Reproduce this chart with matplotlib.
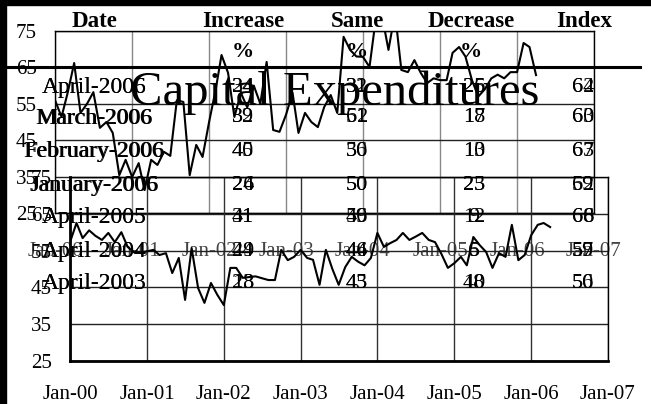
import matplotlib
matplotlib.use("Agg")
import matplotlib.pyplot as plt
import matplotlib.dates as mdates
from matplotlib.lines import Line2D
from matplotlib.patches import Rectangle
import pandas as pd

W, H = 651, 404

# monthly index readings, Jan-2000 .. Apr-2006
months = pd.date_range("2000-01-01", periods=76, freq="MS")
spend_upper = [56.0, 51.4, 58.0, 66.2, 52.5, 55.0, 58.2, 48.4, 50.0, 47.0,
               35.4, 39.6, 34.9, 38.7, 31.3, 39.6, 38.2, 41.8, 40.7, 56.0,
               55.5, 35.4, 43.7, 40.4, 50.0, 58.8, 68.4, 63.5, 51.4, 58.0,
               54.0, 60.0, 55.0, 66.5, 47.8, 47.3, 52.0, 58.0, 47.0, 52.5,
               50.0, 48.6, 54.1, 57.4, 52.5, 73.4, 69.8, 68.0, 67.9, 65.1,
               78.0, 79.0, 69.8, 80.0, 64.3, 63.7, 67.0, 63.5, 60.7, 62.0,
               61.5, 61.5, 69.0, 70.6, 68.0, 61.5, 57.0, 59.0, 62.0, 63.0,
               62.0, 63.7, 63.7, 71.7, 70.6, 62.9]
spend_lower = [57.3, 62.5, 58.4, 60.5, 59.0, 57.9, 59.8, 57.3, 60.0, 56.0,
               54.5, 54.5, 54.8, 55.2, 53.8, 54.3, 48.9, 53.0, 41.6, 55.7,
               44.8, 40.8, 46.2, 43.0, 40.2, 50.3, 50.3, 47.6, 47.8, 48.0,
               47.5, 47.0, 47.0, 55.2, 52.4, 53.3, 55.2, 53.0, 52.5, 45.7,
               55.2, 50.0, 45.7, 50.5, 53.3, 52.0, 51.0, 53.0, 59.8, 56.0,
               57.0, 57.9, 59.8, 57.9, 58.8, 59.8, 57.9, 57.3, 54.0, 50.3,
               51.6, 53.3, 51.0, 58.7, 56.5, 54.6, 50.3, 54.3, 53.3, 62.0,
               52.4, 53.8, 59.2, 62.0, 62.5, 61.4]
y_ticks = [25, 35, 45, 55, 65, 75]

# table (two overlapping copies)
headers = ["Date", "Increase", "Same", "Decrease", "Index"]
rows = ["April-2006", "March-2006", "February-2006", "January-2006",
        "April-2005", "April-2004", "April-2003"]
inc_a = [34, 32, 40, 26, 41, 29, 18]
inc_b = [24, 39, 45, 24, 31, 44, 23]
same_a = [32, 51, 36, 50, 49, 44, 45]
same_b = [31, 62, 50, 50, 56, 46, 43]
dec_a = [25, 17, 10, 25, 12, 5, 10]
dec_b = [26, 18, 13, 23, 9, 6, 48]
idx_a = [64, 60, 63, 59, 66, 59, 56]
idx_b = [62, 63, 67, 62, 68, 57, 50]

SERIF = ["Liberation Serif", "DejaVu Serif"]
plt.rcParams["font.family"] = SERIF


def fx(x):
    return x / W


def fy(y):
    return 1 - y / H


fig = plt.figure(figsize=(W / 100, H / 100), dpi=100, facecolor="white")


def setup(ax, xpad, ypad, xcol, gcol_x, gcol_y):
    ax.set_facecolor("none")
    ax.set_xlim(pd.Timestamp("2000-01-01"), pd.Timestamp("2007-01-01"))
    ax.set_ylim(25, 75)
    ax.set_yticks(y_ticks)
    ax.xaxis.set_major_locator(mdates.YearLocator())
    ax.xaxis.set_major_formatter(mdates.DateFormatter("%b-%y"))
    ax.tick_params(axis="x", length=0, pad=xpad, labelsize=15, labelcolor=xcol)
    ax.tick_params(axis="y", length=0, pad=ypad, labelsize=15)
    ax.grid(axis="x", color=gcol_x, lw=1)
    ax.grid(axis="y", color=gcol_y, lw=1)
    for s in ax.spines.values():
        s.set_color("black")
        s.set_linewidth(1)


# upper chart
ax1 = fig.add_axes([fx(55), fy(213), (594 - 55) / W, (213 - 31) / H])
setup(ax1, 21, 13, "#444444", "#888888", "#222222")
ax1.plot(months, spend_upper, color="black", lw=1.5)

# lower chart
ax2 = fig.add_axes([fx(70), fy(361), (608 - 70) / W, (361 - 177) / H])
setup(ax2, 17, 13, "black", "#333333", "#222222")
ax2.spines["bottom"].set_linewidth(2)
ax2.spines["left"].set_linewidth(2)
ax2.plot(months, spend_lower, color="black", lw=1.5)

# black frame bits and header rule
fig.patches.append(Rectangle((0, fy(5)), 1, 5 / H, transform=fig.transFigure,
                             color="black", zorder=10))
fig.patches.append(Rectangle((0, 0), fx(6), 1, transform=fig.transFigure,
                             color="black", zorder=10))
fig.add_artist(Line2D([0, fx(640)], [fy(66.5)] * 2, color="black", lw=2.2))

# title
fig.text(fx(335), fy(105), "Capital Expenditures", fontsize=35,
         ha="center", va="baseline")

# table headers
head_x = [94, 243, 357, 471, 584]
for hx, h in zip(head_x, headers):
    fig.text(fx(hx), fy(27), h, fontsize=16.5, fontweight="bold",
             ha="center", va="baseline")
for hx in head_x[1:4]:
    fig.text(fx(hx), fy(52), "%", fontsize=16, fontweight="bold",
             ha="center", va="center")

row_y = [87, 118, 152, 186, 218, 251, 284]
for ry, r in zip(row_y, rows):
    fig.text(fx(94), fy(ry), r, fontsize=17, ha="center", va="center")
    fig.text(fx(94.6), fy(ry), r, fontsize=17, ha="center", va="center")

cols = [(243, inc_a, inc_b), (357, same_a, same_b),
        (474, dec_a, dec_b), (583, idx_a, idx_b)]
for cx, va_, vb_ in cols:
    for ry, a, b in zip(row_y, va_, vb_):
        fig.text(fx(cx), fy(ry), str(a), fontsize=16, ha="center", va="center")
        fig.text(fx(cx), fy(ry), str(b), fontsize=16, ha="center", va="center")

fig.savefig("out.png", dpi=100, facecolor="white")
